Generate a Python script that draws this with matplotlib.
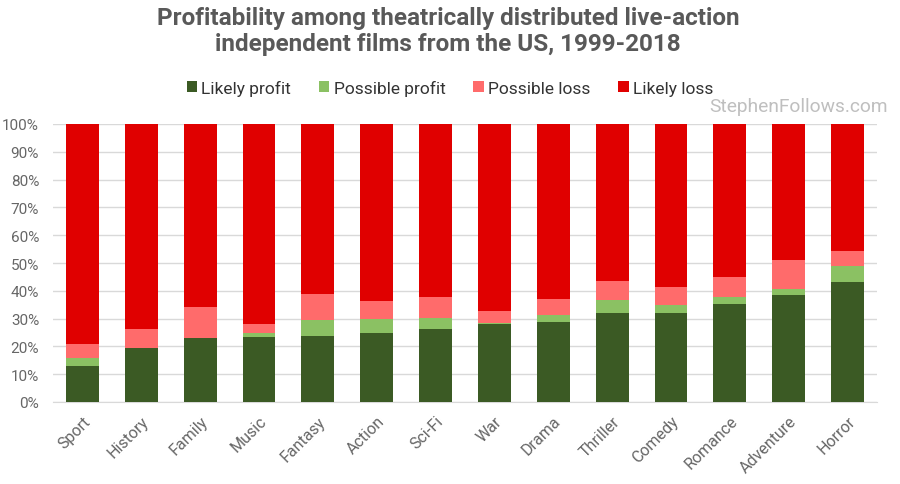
import matplotlib
matplotlib.use("Agg")
import matplotlib.pyplot as plt
import numpy as np

genres = ["Sport", "History", "Family", "Music", "Fantasy", "Action", "Sci-Fi",
          "War", "Drama", "Thriller", "Comedy", "Romance", "Adventure", "Horror"]
likely_profit = [13.1, 19.5, 23.2, 23.5, 23.7, 25.0, 26.4, 28.2, 28.8, 32.0, 32.0, 35.1, 38.4, 43.2]
possible_profit = [2.8, 0.0, 0.0, 1.4, 5.9, 5.0, 3.8, 0.3, 2.5, 4.8, 3.0, 2.8, 2.4, 5.9]
possible_loss = [5.1, 6.7, 11.0, 3.1, 9.1, 6.3, 7.7, 4.1, 5.8, 6.8, 6.2, 6.9, 10.1, 5.1]
likely_loss = [100 - a - b - c for a, b, c in zip(likely_profit, possible_profit, possible_loss)]
series_names = ["Likely profit", "Possible profit", "Possible loss", "Likely loss"]
colors = ["#3b5a24", "#8bc163", "#ff6b6b", "#e00000"]
yticks = list(range(0, 101, 10))

plt.rcParams['font.family'] = ['Roboto', 'DejaVu Sans']

fig = plt.figure(figsize=(9, 4.85), dpi=100)
ax = fig.add_axes([53/900, 82/485, 824/900, 278/485])

x = np.arange(len(genres))
bottom = np.zeros(len(genres))
for name, vals, c in zip(series_names, [likely_profit, possible_profit, possible_loss, likely_loss], colors):
    vals = np.array(vals)
    ax.bar(x, vals, bottom=bottom, width=0.56, color=c, label=name, zorder=3)
    bottom += vals

ax.set_xlim(-0.5, len(genres) - 0.5)
ax.set_ylim(0, 100)
ax.set_yticks(yticks)
ax.set_yticklabels([f"{v}%" for v in yticks])
ax.yaxis.grid(True, color="#d9d9d9", linewidth=1, zorder=0)
ax.set_xticks(x)
ax.set_xticklabels(genres, rotation=45, ha="right", va="top", rotation_mode="anchor")
for s in ["top", "right", "left"]:
    ax.spines[s].set_visible(False)
ax.spines["bottom"].set_color("#d9d9d9")
ax.tick_params(axis="both", length=0, colors="#666666")
ax.tick_params(axis="y", pad=10, labelsize=11)
ax.tick_params(axis="x", pad=8, labelsize=11.5)

fig.text(0.498, 1 - 7/485, "Profitability among theatrically distributed live-action\nindependent films from the US, 1999-2018",
         ha="center", va="top", fontsize=17.5, fontweight="bold", color="#595959", linespacing=1.15)

handles, labels = ax.get_legend_handles_labels()
leg = fig.legend(handles, labels, loc="center", bbox_to_anchor=(0.5, 1 - 89/485), ncol=4,
                 frameon=False, fontsize=12.5, handlelength=0.6, handleheight=0.6,
                 handletextpad=0.25, columnspacing=1.6, labelcolor="#333333")

fig.text(888/900, 1 - 107/485, "StephenFollows.com", ha="right", va="center",
         fontsize=13.8, color="#bfbfbf")

fig.savefig("out.png", dpi=100)
